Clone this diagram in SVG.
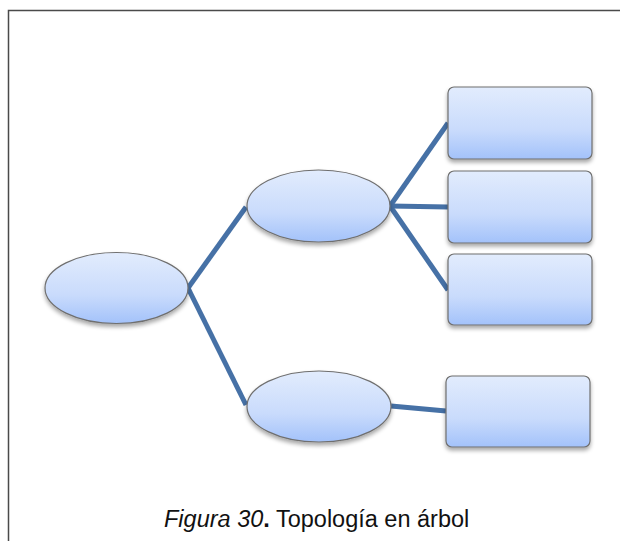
<svg xmlns="http://www.w3.org/2000/svg" width="620" height="541" viewBox="0 0 620 541">
  <defs>
    <linearGradient id="fill" x1="0" y1="0" x2="0" y2="1">
      <stop offset="0" stop-color="#e2ecfd"/>
      <stop offset="0.6" stop-color="#c9dbfc"/>
      <stop offset="1" stop-color="#a3c2fa"/>
    </linearGradient>
    <filter id="shadow" x="-20%" y="-20%" width="140%" height="150%">
      <feGaussianBlur in="SourceAlpha" stdDeviation="2"/>
      <feOffset dx="0" dy="3" result="b"/>
      <feComponentTransfer><feFuncA type="linear" slope="0.35"/></feComponentTransfer>
      <feMerge><feMergeNode/><feMergeNode in="SourceGraphic"/></feMerge>
    </filter>
  </defs>
  <style>
    .shape { fill: url(#fill); stroke: #6f6f6f; stroke-width: 1.2; filter: url(#shadow); }
    .link { stroke: #4671a6; stroke-width: 5; fill: none; stroke-linecap: butt; }
    .caption { font-family: "Liberation Sans", Arial, sans-serif; font-size: 23.5px; fill: #111; }
  </style>

  <rect width="620" height="541" fill="#ffffff"/>
  <!-- outer frame (right and bottom edges run off the canvas) -->
  <path d="M8.5 545 V10.5 H625" fill="none" stroke="#4a4a4a" stroke-width="1.5"/>

  <g id="connectors">
    <line class="link" x1="188" y1="288" x2="246" y2="207"/>
    <line class="link" x1="188" y1="288" x2="246" y2="405"/>
    <line class="link" x1="390" y1="206" x2="448" y2="123"/>
    <line class="link" x1="390" y1="206" x2="448" y2="207"/>
    <line class="link" x1="390" y1="206" x2="448" y2="290"/>
    <line class="link" x1="391" y1="406" x2="446" y2="411"/>
  </g>

  <g id="root"><ellipse class="shape" cx="116.5" cy="288" rx="71.5" ry="35.5"/></g>
  <g id="branch-upper"><ellipse class="shape" cx="318.5" cy="206" rx="71.5" ry="36"/></g>
  <g id="branch-lower"><ellipse class="shape" cx="319" cy="406.5" rx="72" ry="35.5"/></g>

  <g id="leaf-1"><rect class="shape" x="448" y="87" width="144" height="72" rx="6"/></g>
  <g id="leaf-2"><rect class="shape" x="448" y="171" width="144" height="72" rx="6"/></g>
  <g id="leaf-3"><rect class="shape" x="448" y="254" width="144" height="71" rx="6"/></g>
  <g id="leaf-4"><rect class="shape" x="446" y="376" width="144" height="71" rx="6"/></g>

  <text class="caption" x="164" y="527"><tspan font-style="italic">Figura 30</tspan><tspan font-weight="bold">.</tspan> Topología en árbol</text>
</svg>
